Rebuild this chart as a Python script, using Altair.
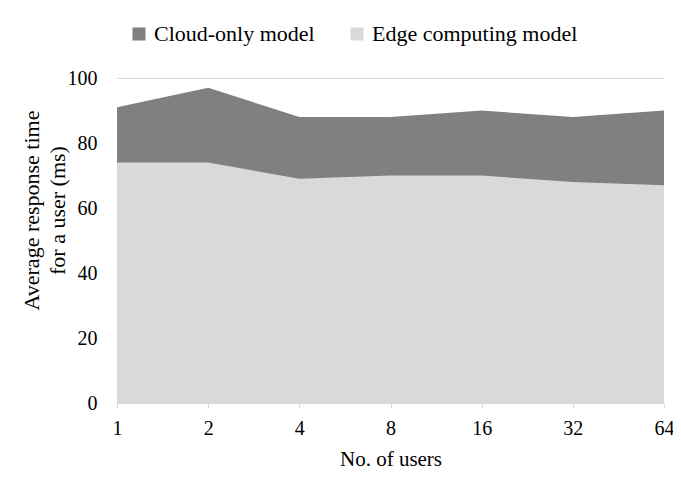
import altair as alt
import pandas as pd

users = ["1", "2", "4", "8", "16", "32", "64"]
cloud_only = [91, 97, 88, 88, 90, 88, 90]
edge_computing = [74, 74, 69, 70, 70, 68, 67]
series_names = ["Cloud-only model", "Edge computing model"]
series_colors = ["#808080", "#d9d9d9"]

rows = []
for u, c, e in zip(users, cloud_only, edge_computing):
    rows.append({"users": u, "series": series_names[0], "value": c})
    rows.append({"users": u, "series": series_names[1], "value": e})
df = pd.DataFrame(rows)

FONT = "Palatino Linotype, Book Antiqua, Palatino, Liberation Serif, serif"

x_enc = alt.X(
    "users:O",
    sort=users,
    scale=alt.Scale(padding=0),
    axis=alt.Axis(
        title="No. of users",
        labelAngle=0,
        labelFontSize=20,
        titleFontSize=21,
        labelPadding=10,
        tickSize=5,
        tickColor="#d9d9d9",
        domainColor="#d9d9d9",
        titlePadding=10,
        labelColor="#000000",
        titleColor="#000000",
        titleFontWeight="normal",
    ),
)
y_enc = alt.Y(
    "value:Q",
    scale=alt.Scale(domain=[0, 100]),
    axis=alt.Axis(
        title=["Average response time", "for a user (ms)"],
        values=[0, 20, 40, 60, 80, 100],
        labelFontSize=20,
        titleFontSize=22,
        labelPadding=20,
        ticks=False,
        domain=False,
        gridColor="#d9d9d9",
        titleX=-79,
        titleY=132,
        titleAngle=-90,
        titleAlign="center",
        titleBaseline="alphabetic",
        titleLineHeight=26,
        labelColor="#000000",
        titleColor="#000000",
        titleFontWeight="normal",
    ),
)
color_enc = alt.Color(
    "series:N",
    scale=alt.Scale(domain=series_names, range=series_colors),
    legend=alt.Legend(
        title=None,
        orient="none",
        direction="horizontal",
        legendX=11,
        legendY=-55,
        symbolType="square",
        symbolSize=169,
        symbolStrokeWidth=0,
        symbolOpacity=1,
        labelFontSize=22,
        labelOffset=4,
        labelLimit=400,
        columnPadding=31,
        labelColor="#000000",
    ),
)

cloud = (
    alt.Chart(df)
    .transform_filter(alt.datum.series == series_names[0])
    .mark_area(opacity=1, interpolate="linear")
    .encode(x=x_enc, y=y_enc, color=color_enc)
)
edge = (
    alt.Chart(df)
    .transform_filter(alt.datum.series == series_names[1])
    .mark_area(opacity=1, interpolate="linear")
    .encode(x=x_enc, y=y_enc, color=color_enc)
)

chart = (
    alt.layer(cloud, edge)
    .properties(
        width=547,
        height=325,
        autosize=alt.AutoSizeParams(type="none"),
        padding={"left": 109, "top": 70, "right": 9, "bottom": 66},
    )
    .configure(font=FONT)
    .configure_view(stroke=None)
    .configure_axis(grid=True)
    .configure_axisX(grid=False)
)

chart.save("out.html", embed_options={"renderer": "svg", "actions": False})
